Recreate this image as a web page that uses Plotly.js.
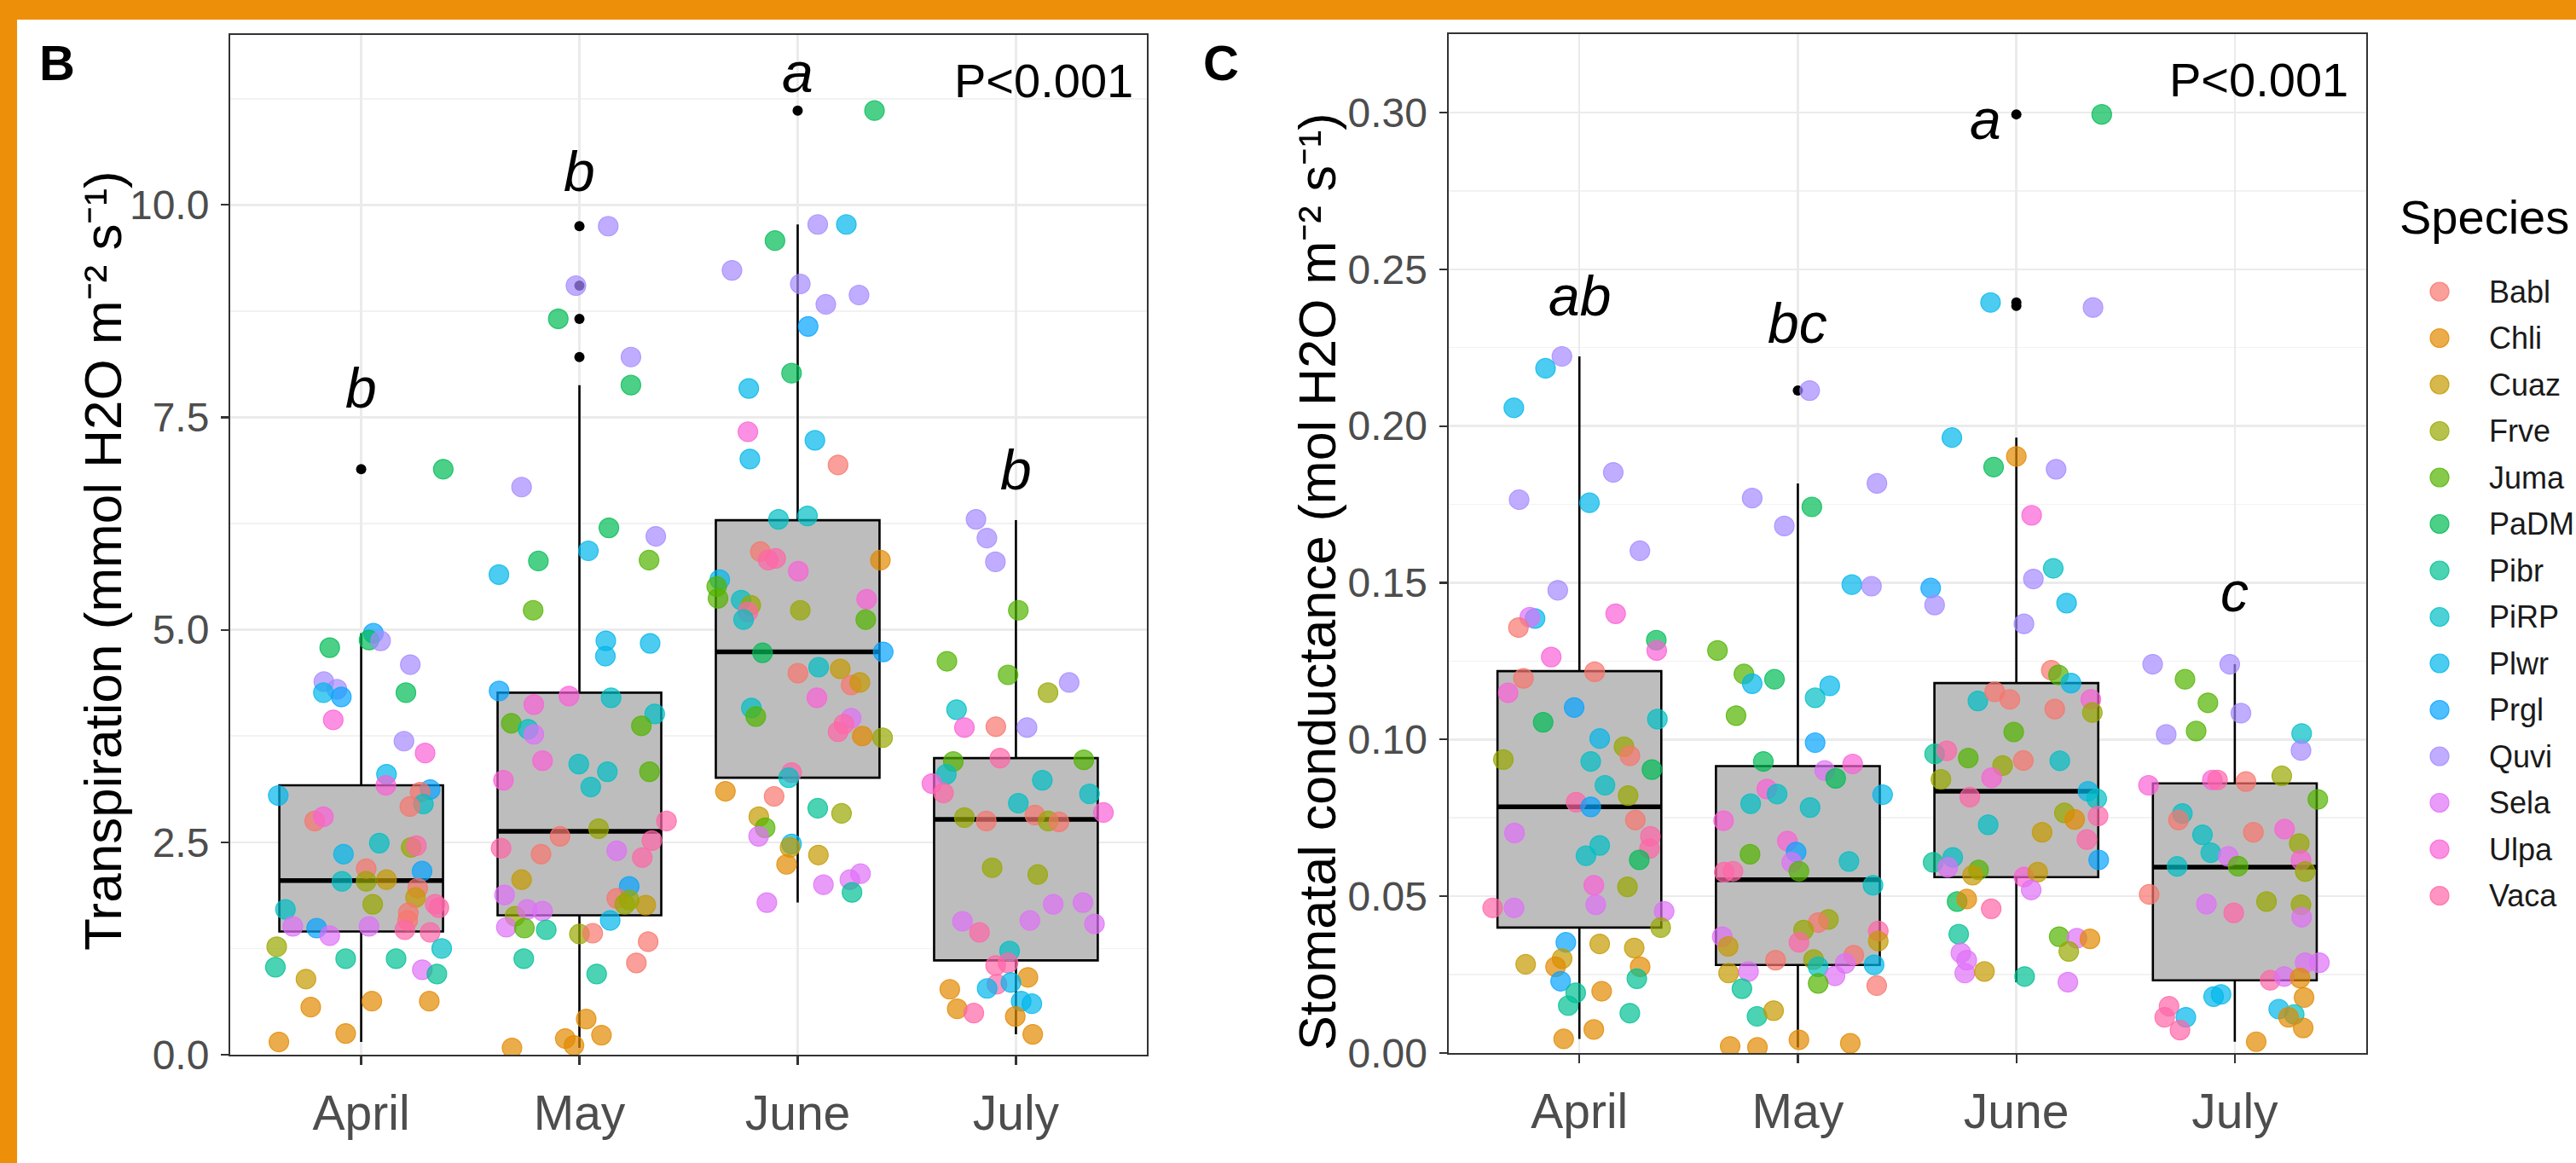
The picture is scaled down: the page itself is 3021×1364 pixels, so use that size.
<!DOCTYPE html>
<html><head><meta charset="utf-8">
<script src="https://cdn.plot.ly/plotly-3.0.1.min.js"></script>
<style>html,body{margin:0;padding:0;background:#fff;overflow:hidden}#chart{width:3021px;height:1364px}</style>
</head><body><div id="chart"></div>
<script>
// ---------------- data ----------------
const months = ["April","May","June","July"];
const species = ["Babl","Chli","Cuaz","Frve","Juma","PaDM","Pibr","PiRP","Plwr","Prgl","Quvi","Sela","Ulpa","Vaca"];
const speciesColors = ["#F8766D","#E38900","#C49A00","#99A800","#53B400","#00BC56","#00C094","#00BFC4","#00B6EB","#06A4FF","#A58AFF","#DF70F8","#FB61D7","#FF66A8"];

// Transpiration box statistics (April..July)
const trQ1 = [1.45,1.64,3.26,1.11];
const trMedian = [2.05,2.63,4.74,2.77];
const trQ3 = [3.17,4.26,6.29,3.49];
const trLow = [0.15,0.08,1.79,0.24];
const trHigh = [4.96,7.88,9.77,6.29];
const trOutliers = [[6.89],[9.75,9.05,8.66,8.21],[11.11],[]];
const trLetters = ["b","b","a","b"];
const trLetterY = [7.85,10.39,11.56,6.88];

// Stomatal conductance box statistics
const gsQ1 = [0.040,0.0281,0.0561,0.0232];
const gsMedian = [0.0785,0.0553,0.0835,0.0593];
const gsQ3 = [0.1218,0.0915,0.118,0.086];
const gsLow = [0.0045,0.0018,0.0226,0.0036];
const gsHigh = [0.2222,0.1817,0.1963,0.124];
const gsOutliers = [[],[0.2113],[0.2994,0.2394,0.2383],[]];
const gsLetters = ["ab","bc","a","c"];
const gsLetterX = [0,1,1.86,3];
const gsLetterY = [0.2416,0.2329,0.2978,0.147];

// jittered observations: [species, jitter offset, value]
const trApr = [["Prgl",0.056,4.96],["PaDM",0.036,4.88],["Quvi",0.089,4.87],["PaDM",-0.144,4.79],["Quvi",0.225,4.59],["Quvi",-0.171,4.39],["Quvi",-0.111,4.30],["Plwr",-0.173,4.26],["Prgl",-0.091,4.21],["PaDM",0.205,4.26],["Ulpa",-0.128,3.94],["Quvi",0.196,3.69],["Ulpa",0.293,3.55],["Plwr",0.116,3.30],["Ulpa",0.113,3.17],["Prgl",0.316,3.12],["Babl",0.27,3.09],["PiRP",0.285,2.95],["Babl",0.223,2.92],["Plwr",-0.38,3.05],["Babl",-0.213,2.75],["Ulpa",-0.173,2.80],["PiRP",0.083,2.49],["Frve",0.229,2.44],["Vaca",0.253,2.46],["Plwr",-0.081,2.36],["Babl",0.023,2.19],["Prgl",0.279,2.16],["PiRP",-0.088,2.04],["Frve",0.023,2.04],["Cuaz",0.116,2.06],["Babl",0.259,1.96],["Cuaz",0.249,1.85],["Frve",0.053,1.77],["PiRP",-0.347,1.71],["Babl",0.216,1.67],["Babl",0.213,1.58],["Vaca",0.339,1.77],["Vaca",0.356,1.73],["Sela",-0.313,1.51],["Prgl",-0.204,1.49],["Sela",-0.144,1.40],["Sela",0.036,1.51],["Vaca",0.2,1.47],["Vaca",0.316,1.44],["Frve",-0.387,1.27],["PiRP",0.369,1.25],["Pibr",-0.393,1.03],["Pibr",-0.071,1.13],["Pibr",0.16,1.13],["Sela",0.28,1.0],["Pibr",0.347,0.95],["Cuaz",-0.253,0.89],["Chli",-0.231,0.56],["Chli",0.049,0.63],["Chli",0.312,0.63],["Chli",-0.071,0.25],["Chli",-0.377,0.15],["PaDM",0.376,6.89]];
const trMay = [["Quvi",-0.265,6.68],["Quvi",0.132,9.75],["Quvi",-0.016,9.05],["PaDM",-0.097,8.66],["Quvi",0.236,8.21],["PaDM",0.236,7.88],["PaDM",0.135,6.20],["Quvi",0.35,6.10],["Plwr",0.041,5.93],["Plwr",-0.369,5.65],["PaDM",-0.188,5.81],["Juma",0.319,5.82],["Juma",-0.212,5.23],["Plwr",0.121,4.87],["Plwr",0.119,4.69],["Plwr",0.324,4.84],["Prgl",-0.368,4.28],["Ulpa",-0.209,4.12],["Ulpa",-0.048,4.22],["PiRP",0.145,4.20],["PiRP",0.345,4.01],["Juma",-0.312,3.90],["PiRP",-0.235,3.83],["Sela",-0.209,3.77],["Juma",0.284,3.87],["Ulpa",-0.169,3.46],["PiRP",-0.003,3.42],["PiRP",0.128,3.33],["PiRP",0.052,3.15],["Juma",0.321,3.33],["Ulpa",-0.348,3.23],["Vaca",0.399,2.75],["Frve",0.088,2.66],["Babl",-0.089,2.57],["Vaca",-0.359,2.43],["Babl",-0.176,2.36],["Sela",0.171,2.40],["Vaca",0.332,2.52],["Vaca",0.288,2.32],["Cuaz",-0.265,2.06],["Prgl",0.228,1.98],["Sela",-0.343,1.88],["Babl",0.171,1.84],["Frve",0.208,1.77],["Cuaz",0.304,1.76],["Frve",0.228,1.82],["Frve",-0.295,1.63],["Sela",-0.239,1.71],["Sela",-0.169,1.69],["Sela",-0.335,1.50],["Juma",-0.252,1.49],["Pibr",-0.152,1.47],["Plwr",0.141,1.58],["Frve",0,1.42],["Babl",0.061,1.43],["Babl",0.315,1.33],["Pibr",-0.255,1.13],["Babl",0.261,1.08],["Pibr",0.079,0.95],["Chli",0.031,0.42],["Chli",0.101,0.23],["Chli",-0.065,0.19],["Chli",-0.025,0.11],["Chli",-0.309,0.08]];
const trJun = [["PaDM",0.352,11.11],["Quvi",0.092,9.77],["Plwr",0.223,9.77],["PaDM",-0.104,9.58],["Quvi",-0.301,9.23],["Quvi",0.012,9.07],["Quvi",0.129,8.83],["Quvi",0.281,8.94],["Prgl",0.048,8.57],["PaDM",-0.028,8.02],["Plwr",-0.224,7.84],["Ulpa",-0.228,7.33],["Plwr",0.079,7.23],["Plwr",-0.219,7.01],["Babl",0.185,6.94],["PiRP",-0.088,6.30],["PiRP",0.045,6.34],["Babl",-0.171,5.92],["Vaca",-0.135,5.82],["Vaca",-0.101,5.84],["Chli",0.379,5.82],["Ulpa",0.003,5.69],["Plwr",-0.357,5.59],["Juma",-0.371,5.51],["Juma",-0.365,5.37],["PiRP",-0.259,5.35],["Frve",-0.215,5.29],["Vaca",-0.228,5.21],["PiRP",-0.248,5.12],["Frve",0.012,5.23],["Ulpa",0.316,5.36],["Juma",0.312,5.12],["PaDM",-0.161,4.73],["Prgl",0.392,4.74],["Babl",0.001,4.49],["PiRP",0.096,4.56],["Cuaz",0.195,4.54],["Babl",0.245,4.35],["Cuaz",0.285,4.38],["Ulpa",0.088,4.20],["PiRP",-0.212,4.08],["Juma",-0.192,3.98],["Sela",0.245,3.96],["Vaca",0.212,3.89],["Vaca",0.185,3.80],["Chli",0.296,3.75],["Frve",0.389,3.73],["Vaca",-0.028,3.32],["PiRP",-0.041,3.26],["Chli",-0.331,3.10],["Babl",-0.108,3.04],["Pibr",0.092,2.90],["Frve",0.201,2.84],["Cuaz",-0.178,2.80],["Juma",-0.149,2.67],["Sela",-0.179,2.57],["Plwr",-0.028,2.48],["Cuaz",-0.035,2.44],["Cuaz",0.095,2.35],["Chli",-0.051,2.24],["Sela",0.288,2.13],["Sela",0.239,2.06],["Pibr",0.249,1.91],["Sela",0.118,2.00],["Sela",-0.141,1.79]];
const trJul = [["Quvi",-0.183,6.30],["Quvi",-0.133,6.08],["Quvi",-0.094,5.80],["Juma",0.011,5.23],["Juma",-0.316,4.63],["Juma",-0.036,4.47],["Quvi",0.244,4.38],["Frve",0.147,4.26],["PiRP",-0.272,4.06],["Ulpa",-0.236,3.85],["Babl",-0.092,3.86],["Quvi",0.051,3.85],["Juma",-0.287,3.45],["Vaca",-0.073,3.49],["Juma",0.311,3.47],["PiRP",-0.319,3.30],["Ulpa",-0.385,3.19],["Vaca",-0.332,3.08],["PiRP",0.121,3.23],["PiRP",0.011,2.96],["PiRP",0.337,3.07],["Ulpa",0.401,2.85],["Frve",-0.236,2.79],["Babl",-0.136,2.75],["Babl",0.087,2.82],["Frve",0.148,2.75],["Babl",0.197,2.74],["Frve",-0.109,2.20],["Frve",0.1,2.12],["Sela",0.171,1.77],["Sela",0.307,1.79],["Sela",-0.245,1.57],["Vaca",-0.167,1.44],["Sela",0.064,1.58],["Sela",0.36,1.54],["PiRP",-0.029,1.22],["Vaca",-0.093,1.05],["Vaca",-0.036,1.08],["Chli",0.055,0.91],["Vaca",-0.087,0.83],["Plwr",-0.132,0.78],["Plwr",-0.023,0.85],["Chli",-0.303,0.77],["Plwr",0.024,0.63],["Plwr",0.073,0.60],["Chli",-0.269,0.54],["Vaca",-0.193,0.49],["Chli",-0.003,0.45],["Chli",0.077,0.24]];

const gsApr = [["Quvi",-0.080,0.2222],["Plwr",-0.155,0.2184],["Plwr",-0.300,0.2058],["Quvi",0.155,0.1852],["Quvi",-0.276,0.1765],["Plwr",0.046,0.1755],["Quvi",0.277,0.1602],["Quvi",-0.099,0.1476],["Plwr",-0.203,0.1386],["Sela",-0.227,0.139],["Babl",-0.279,0.1357],["Ulpa",0.166,0.1401],["PaDM",0.352,0.1317],["Ulpa",0.354,0.1284],["Ulpa",-0.129,0.1263],["Babl",-0.256,0.1195],["Babl",0.07,0.1216],["Ulpa",-0.326,0.1149],["Prgl",-0.024,0.1102],["PaDM",-0.166,0.1055],["PiRP",0.357,0.1065],["Plwr",0.093,0.1003],["Frve",0.204,0.0977],["Babl",0.231,0.0948],["Frve",-0.348,0.0936],["PiRP",0.052,0.0930],["PaDM",0.332,0.0904],["PiRP",0.117,0.0854],["Frve",0.223,0.0821],["Vaca",-0.015,0.0800],["Prgl",0.052,0.0785],["Babl",0.256,0.0743],["Sela",-0.297,0.0702],["Vaca",0.325,0.0691],["Vaca",0.321,0.0652],["PiRP",0.093,0.0662],["PiRP",0.03,0.0629],["PaDM",0.274,0.0616],["Ulpa",0.066,0.0535],["Sela",0.075,0.0473],["Frve",0.22,0.0530],["Vaca",-0.397,0.0463],["Sela",-0.299,0.0463],["Sela",0.388,0.0452],["Frve",0.372,0.040],["Prgl",-0.062,0.0353],["Cuaz",0.093,0.0348],["Cuaz",0.251,0.0335],["Cuaz",-0.246,0.0283],["Cuaz",-0.079,0.0301],["Chli",-0.109,0.0275],["Chli",0.278,0.0275],["Prgl",-0.086,0.0229],["Pibr",0.263,0.0237],["Pibr",-0.017,0.0192],["Pibr",-0.051,0.0151],["Chli",0.102,0.0197],["Pibr",0.231,0.0127],["Chli",0.066,0.0075],["Chli",-0.072,0.0045]];
const gsMay = [["Quvi",0.054,0.2113],["Quvi",0.362,0.1817],["Quvi",-0.209,0.1770],["PaDM",0.064,0.1742],["Quvi",-0.062,0.1681],["Plwr",0.247,0.1494],["Quvi",0.337,0.1489],["Juma",-0.368,0.1284],["Juma",-0.247,0.1209],["Plwr",-0.209,0.1178],["PaDM",-0.107,0.1192],["Juma",-0.283,0.1076],["Plwr",0.146,0.1171],["PiRP",0.079,0.1133],["Prgl",0.079,0.0990],["PaDM",-0.158,0.0930],["Ulpa",0.251,0.0922],["Sela",0.123,0.0901],["PaDM",0.173,0.0876],["Ulpa",-0.142,0.0842],["PiRP",-0.095,0.0826],["PiRP",-0.216,0.0795],["PiRP",0.056,0.0783],["Plwr",0.388,0.0824],["Ulpa",-0.34,0.0741],["Ulpa",-0.048,0.0676],["Prgl",-0.008,0.0641],["Sela",-0.028,0.0608],["PiRP",0.234,0.0611],["Juma",-0.219,0.0634],["Vaca",-0.337,0.0577],["Vaca",-0.297,0.058],["Juma",0.005,0.058],["PiRP",0.344,0.0535],["Frve",0.14,0.0426],["Babl",0.093,0.0416],["Frve",0.026,0.0392],["Sela",-0.346,0.0371],["Cuaz",-0.319,0.0340],["Vaca",0.005,0.0353],["Vaca",0.368,0.0389],["Cuaz",0.368,0.0357],["Babl",-0.102,0.0296],["Frve",0.072,0.0298],["PiRP",0.093,0.0275],["Babl",0.256,0.0312],["Sela",0.217,0.0286],["Plwr",0.349,0.0281],["Cuaz",-0.317,0.0255],["Sela",-0.226,0.026],["Sela",0.17,0.0246],["Juma",0.093,0.0222],["Babl",0.361,0.0215],["Pibr",-0.256,0.0205],["Pibr",-0.187,0.0117],["Cuaz",-0.111,0.0135],["Chli",-0.31,0.0021],["Chli",-0.185,0.0018],["Chli",0.005,0.0042],["Chli",0.24,0.0031]];
const gsJun = [["PaDM",0.391,0.2994],["Plwr",-0.118,0.2394],["Quvi",0.351,0.2378],["Plwr",-0.295,0.1963],["Chli",0.0,0.1903],["PaDM",-0.104,0.1869],["Quvi",0.182,0.1862],["Ulpa",0.07,0.1715],["Prgl",-0.392,0.1483],["Quvi",-0.374,0.1429],["PiRP",0.169,0.1546],["Quvi",0.078,0.1512],["Plwr",0.23,0.1435],["Quvi",0.035,0.1369],["Babl",0.16,0.1221],["Juma",0.193,0.1206],["Plwr",0.25,0.118],["PiRP",-0.176,0.1123],["Babl",-0.099,0.1152],["Babl",-0.03,0.1128],["Babl",0.176,0.1097],["Ulpa",0.341,0.1128],["Frve",0.348,0.1086],["Juma",-0.012,0.1024],["Pibr",-0.374,0.0954],["Vaca",-0.318,0.0964],["Juma",-0.22,0.0941],["Frve",-0.063,0.0917],["Babl",0.032,0.0933],["PiRP",0.199,0.0932],["Ulpa",-0.113,0.0878],["Frve",-0.345,0.0873],["Vaca",-0.213,0.0816],["Plwr",0.328,0.0835],["PiRP",0.368,0.0811],["PiRP",-0.129,0.0728],["Frve",0.22,0.0766],["Chli",0.267,0.0745],["Vaca",0.374,0.0756],["Cuaz",0.118,0.0704],["Vaca",0.323,0.0681],["Pibr",-0.381,0.0608],["PiRP",-0.291,0.0624],["Sela",-0.314,0.0592],["Prgl",0.377,0.0616],["Juma",-0.173,0.0584],["Cuaz",-0.2,0.0567],["Ulpa",0.035,0.0561],["Cuaz",0.098,0.0577],["Sela",0.068,0.052],["PaDM",-0.271,0.0483],["Chli",-0.227,0.0491],["Vaca",-0.115,0.046],["Pibr",-0.264,0.0379],["Juma",0.196,0.0371],["Sela",0.277,0.0366],["Chli",0.337,0.0364],["Frve",0.24,0.0324],["Sela",-0.254,0.0319],["Sela",-0.227,0.0296],["Sela",-0.236,0.0255],["Cuaz",-0.146,0.026],["Pibr",0.038,0.0244],["Sela",0.236,0.0226]];
const gsJul = [["Quvi",-0.376,0.124],["Quvi",-0.023,0.124],["Juma",-0.228,0.1192],["Juma",-0.123,0.1117],["Quvi",0.028,0.1084],["Juma",-0.177,0.1027],["Quvi",-0.314,0.1016],["PiRP",0.306,0.1019],["Quvi",0.303,0.0965],["Ulpa",-0.395,0.0854],["Ulpa",-0.103,0.0871],["Vaca",-0.079,0.0871],["Babl",0.051,0.0866],["Frve",0.215,0.0884],["Juma",0.38,0.0809],["PiRP",-0.24,0.0764],["Babl",-0.258,0.0743],["PiRP",-0.148,0.0696],["Babl",0.085,0.0704],["Ulpa",0.228,0.0714],["Frve",0.295,0.0668],["PiRP",-0.11,0.0639],["Sela",-0.03,0.0627],["Juma",0.015,0.0596],["Ulpa",0.303,0.0615],["Frve",0.322,0.0579],["PiRP",-0.264,0.0595],["Babl",-0.392,0.0506],["Sela",-0.13,0.0475],["Frve",0.145,0.0483],["Vaca",-0.005,0.0447],["Frve",0.303,0.0473],["Sela",0.306,0.0433],["Sela",0.322,0.0288],["Sela",0.387,0.0288],["Vaca",0.162,0.0232],["Sela",0.226,0.0244],["Chli",0.299,0.0239],["Chli",0.317,0.0177],["Plwr",-0.097,0.0180],["Plwr",-0.063,0.0187],["Vaca",-0.301,0.0149],["Vaca",-0.321,0.0114],["Plwr",-0.224,0.0114],["Vaca",-0.251,0.0073],["Plwr",0.201,0.0140],["PiRP",0.272,0.0123],["Chli",0.246,0.0114],["Chli",0.313,0.008],["Chli",0.098,0.0036]];

// ---------------- drawing ----------------
const W = 3021, H = 1364;
const px = v => v / W, py = v => 1 - v / H;
const FONT = "Liberation Sans, Arial, Helvetica, sans-serif";
const BOXW = 0.75;

function rgba(hex, a) {
  const n = parseInt(hex.slice(1), 16);
  return `rgba(${(n >> 16) & 255},${(n >> 8) & 255},${n & 255},${a})`;
}
function colorOf(sp) { return speciesColors[species.indexOf(sp)]; }

function boxTrace(q1, med, q3, lo, hi, xa, ya) {
  return {type: 'box', x: [0, 1, 2, 3], q1: q1, median: med, q3: q3, lowerfence: lo, upperfence: hi,
    width: BOXW, whiskerwidth: 0, boxpoints: false, fillcolor: '#BDBDBD',
    line: {color: '#000000', width: 2.6}, xaxis: xa, yaxis: ya, hoverinfo: 'skip', showlegend: false};
}
function medianTrace(med, xa, ya) {
  const x = [], y = [];
  med.forEach((m, i) => { x.push(i - BOXW / 2, i + BOXW / 2, null); y.push(m, m, null); });
  return {type: 'scatter', mode: 'lines', x, y, line: {color: '#000', width: 5.5}, xaxis: xa, yaxis: ya, hoverinfo: 'skip', showlegend: false};
}
function outlierTrace(outs, xa, ya) {
  const x = [], y = [];
  outs.forEach((arr, i) => arr.forEach(v => { x.push(i); y.push(v); }));
  return {type: 'scatter', mode: 'markers', x, y, marker: {color: '#000', size: 12}, xaxis: xa, yaxis: ya, hoverinfo: 'skip', showlegend: false};
}
function pointsTrace(groups, xa, ya) {
  const x = [], y = [], c = [], lc = [];
  groups.forEach((g, mi) => g.forEach(([sp, j, v]) => {
    x.push(mi + j); y.push(v);
    c.push(rgba(colorOf(sp), 0.7)); lc.push(rgba(colorOf(sp), 0.8));
  }));
  return {type: 'scatter', mode: 'markers', x, y, xaxis: xa, yaxis: ya, hoverinfo: 'skip', showlegend: false,
    marker: {size: 23, color: c, line: {color: lc, width: 1.2}}};
}

// legend (drawn in a pixel-scaled helper axis)
const LEG_X = 2861, LEG_TOP = 342, LEG_STEP = 54.5;
const legendTrace = {type: 'scatter', mode: 'markers', xaxis: 'x3', yaxis: 'y3',
  x: species.map(() => LEG_X), y: species.map((s, i) => LEG_TOP + i * LEG_STEP),
  marker: {size: 22, color: speciesColors.map(c => rgba(c, 0.7)), line: {color: speciesColors.map(c => rgba(c, 0.8)), width: 1.2}},
  hoverinfo: 'skip', showlegend: false, cliponaxis: false};

const traces = [
  boxTrace(trQ1, trMedian, trQ3, trLow, trHigh, 'x', 'y'),
  medianTrace(trMedian, 'x', 'y'),
  outlierTrace(trOutliers, 'x', 'y'),
  pointsTrace([trApr, trMay, trJun, trJul], 'x', 'y'),
  boxTrace(gsQ1, gsMedian, gsQ3, gsLow, gsHigh, 'x2', 'y2'),
  medianTrace(gsMedian, 'x2', 'y2'),
  outlierTrace(gsOutliers, 'x2', 'y2'),
  pointsTrace([gsApr, gsMay, gsJun, gsJul], 'x2', 'y2'),
  legendTrace
];

const xCommon = {
  range: [-0.6, 3.6], tickvals: [0, 1, 2, 3], ticktext: months, showgrid: true, gridcolor: '#EBEBEB', gridwidth: 2.5,
  zeroline: false, showline: true, linecolor: '#333333', linewidth: 2, mirror: true,
  ticks: 'outside', ticklen: 10, tickwidth: 2.2, tickcolor: '#333333',
  tickfont: {family: FONT, size: 57, color: '#4D4D4D'}, ticklabelstandoff: 8, fixedrange: true
};
const yCommon = {
  showgrid: true, gridcolor: '#EBEBEB', gridwidth: 2.5, zeroline: false, showline: true, linecolor: '#333333', linewidth: 2, mirror: true,
  ticks: 'outside', ticklen: 9, tickwidth: 2.2, tickcolor: '#333333',
  tickfont: {family: FONT, size: 48, color: '#4D4D4D'}, ticklabelstandoff: 4, fixedrange: true
};

const annotations = [];
function addText(text, x, y, size, opts) {
  annotations.push(Object.assign({text, x, y, showarrow: false, font: {family: FONT, size, color: '#000'}, xanchor: 'center', yanchor: 'middle'}, opts || {}));
}
// panel tags
addText('<b>B</b>', px(67), py(74), 58, {xref: 'paper', yref: 'paper'});
addText('<b>C</b>', px(1432), py(74), 58, {xref: 'paper', yref: 'paper'});
// axis titles
addText('Transpiration (mmol H2O m\u207B\u00B2 s\u207B\u00B9)', px(120), py(658), 62, {xref: 'paper', yref: 'paper', textangle: -90});
addText('Stomatal conductance (mol H2O m\u207B\u00B2 s\u207B\u00B9)', px(1545), py(682), 61, {xref: 'paper', yref: 'paper', textangle: -90});
// P values
addText('P<0.001', px(1331), py(95), 56, {xref: 'paper', yref: 'paper', xanchor: 'right'});
addText('P<0.001', px(2756), py(94), 56, {xref: 'paper', yref: 'paper', xanchor: 'right'});
// significance letters
trLetters.forEach((t, i) => addText('<i>' + t + '</i>', i, trLetterY[i], 66, {xref: 'x', yref: 'y'}));
gsLetters.forEach((t, i) => addText('<i>' + t + '</i>', gsLetterX[i], gsLetterY[i], 66, {xref: 'x2', yref: 'y2'}));
// legend
addText('Species', 2812, 254, 56, {xref: 'x3', yref: 'y3', xanchor: 'left'});
species.forEach((s, i) => addText(s, 2917, LEG_TOP + i * LEG_STEP, 36, {xref: 'x3', yref: 'y3', xanchor: 'left', font: {family: FONT, size: 36, color: '#1A1A1A'}}));

const layout = {
  width: W, height: H, margin: {l: 0, r: 0, t: 0, b: 0}, paper_bgcolor: '#FFFFFF', plot_bgcolor: 'rgba(0,0,0,0)',
  showlegend: false, font: {family: FONT},
  xaxis: Object.assign({}, xCommon, {domain: [px(270), px(1345)], anchor: 'y'}),
  yaxis: Object.assign({}, yCommon, {domain: [py(1237), py(41)], range: [0, 12], tick0: 0, dtick: 2.5, tickformat: '.1f', anchor: 'x',
    minor: {tick0: 0, dtick: 1.25, showgrid: true, gridcolor: '#F2F2F2', gridwidth: 1.6, ticks: ''}}),
  xaxis2: Object.assign({}, xCommon, {domain: [px(1698.5), px(2774.6)], anchor: 'y2'}),
  yaxis2: Object.assign({}, yCommon, {domain: [py(1235), py(40)], range: [0, 0.325], tick0: 0, dtick: 0.05, tickformat: '.2f', anchor: 'x2',
    minor: {tick0: 0, dtick: 0.025, showgrid: true, gridcolor: '#F2F2F2', gridwidth: 1.6, ticks: ''}}),
  xaxis3: {domain: [0, 1], range: [0, W], visible: false, fixedrange: true, anchor: 'y3'},
  yaxis3: {domain: [0, 1], range: [H, 0], visible: false, fixedrange: true, anchor: 'x3'},
  shapes: [
    {type: 'rect', xref: 'paper', yref: 'paper', x0: 0, x1: 1, y0: py(23), y1: 1, fillcolor: '#EE8F0A', line: {width: 0}, layer: 'above'},
    {type: 'rect', xref: 'paper', yref: 'paper', x0: 0, x1: px(20), y0: 0, y1: 1, fillcolor: '#EE8F0A', line: {width: 0}, layer: 'above'}
  ],
  annotations: annotations
};

Plotly.newPlot('chart', traces, layout, {staticPlot: true, displayModeBar: false});
</script>
</body></html>
